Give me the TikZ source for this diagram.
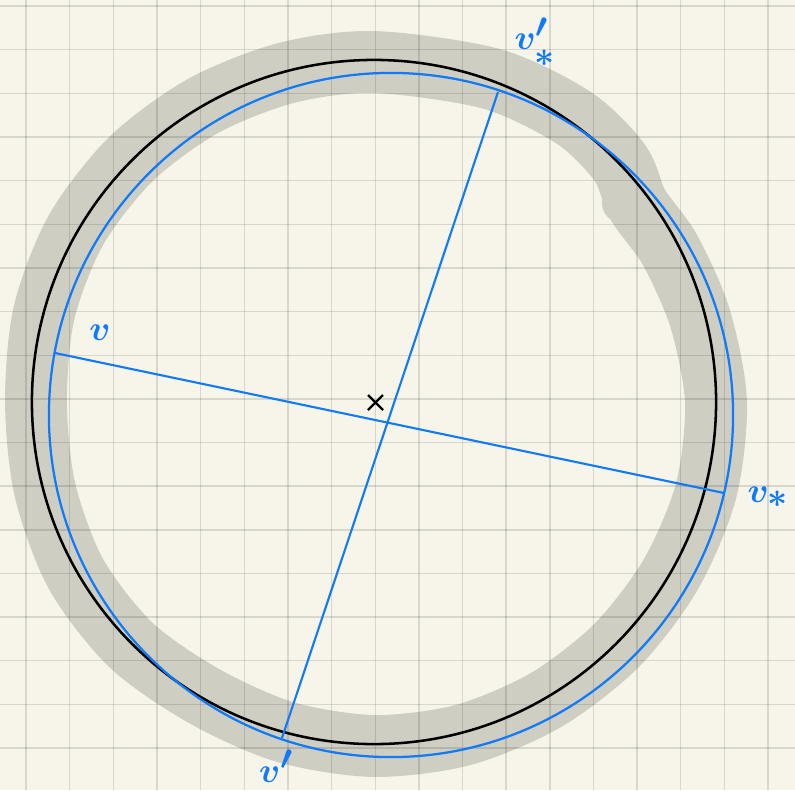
\documentclass[tikz,border=0pt]{standalone}
\definecolor{paper}{RGB}{247,245,233}
\definecolor{pen}{RGB}{16,122,248}
\definecolor{smudge}{RGB}{206,206,194}

\begin{document}
\begin{tikzpicture}[x=0.025cm,y=-0.025cm,
  gridline/.style={black,opacity=0.12,line width=1pt},
  chord/.style={pen,line width=1.5pt},
  hand/.style={pen,font=\fontsize{44}{44}\selectfont\boldmath}]
  \fill[paper] (0,0) rectangle (795,790);
  \useasboundingbox (0,0) rectangle (795,790);
  \draw[smudge,line width=44pt] plot[smooth cycle] coordinates {(374,62) (492,79) (574,118) (620,163) (638,205) (670,250) (700,318) (716,402) (706,491) (671,574) (617,645) (546,700) (463,735) (374,746) (285,732) (204,696) (131,645) (76,574) (45,490) (36,402) (44,313) (76,230) (131,159) (203,106) (286,73)};
  \fill[smudge] (622,203) circle (0.5cm);
  \foreach \k in {0,...,17} {
    \draw[gridline] ({26+43.65*\k},0) -- ({26+43.65*\k},790);
    \draw[gridline] (0,{6+43.65*\k}) -- (795,{6+43.65*\k});
  }
  \draw[black,line width=1.8pt] (374,402) circle[radius=8.55cm];
  \draw[pen,line width=1.6pt] (391,415) circle[radius=8.55cm];
  \coordinate (v) at (55,353);
  \coordinate (vs) at (724,493);
  \coordinate (vp) at (282,738);
  \coordinate (vps) at (498,92);
  \draw[chord] (v) -- (vs);
  \draw[chord] (vp) -- (vps);
  \draw[line width=1.6pt] (368,395) -- (383,410) (368,410) -- (383,395);
  \node[hand] (lv) at (100,333) {$v$};
  \node[hand] (lvs) at (768,497) {$v_*$};
  \node[hand] (lvp) at (276,766) {$v'$};
  \node[hand] (lvps) at (535,42) {$v'_{\lower4pt\hbox{$\scriptstyle *$}}$};
\end{tikzpicture}
\end{document}
